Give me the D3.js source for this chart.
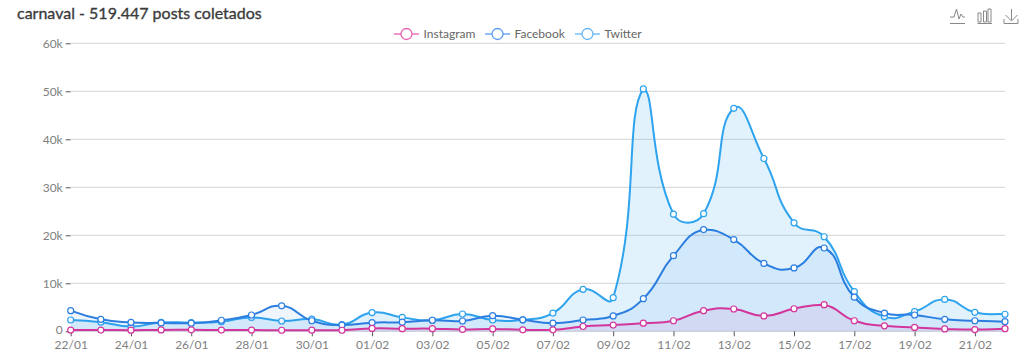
<!DOCTYPE html>
<html>
<head>
<meta charset="utf-8">
<script src="https://cdnjs.cloudflare.com/ajax/libs/d3/7.8.5/d3.min.js"></script>
<style>
  html, body { margin: 0; padding: 0; background: #fff; }
  svg { display: block; font-family: Lato, sans-serif; }
</style>
</head>
<body>
<script>
var w = 1024;
var h = 355;

var days = ["22/01","23/01","24/01","25/01","26/01","27/01","28/01","29/01","30/01","31/01",
  "01/02","02/02","03/02","04/02","05/02","06/02","07/02","08/02","09/02","10/02","11/02",
  "12/02","13/02","14/02","15/02","16/02","17/02","18/02","19/02","20/02","21/02","22/02"];

var instagram = [250,260,240,280,300,260,250,220,230,220,
  600,550,550,400,500,300,300,1000,1300,1700,2200,
  4300,4650,3200,4700,5550,2200,1150,800,500,350,550];
var facebook = [4300,2500,1850,1750,1700,2300,3400,5300,2200,1300,
  1800,1900,2300,2150,3250,2400,1700,2350,3200,6800,15750,
  21200,19100,14150,13200,17350,7100,3800,3400,2500,2200,2000];
var twitter = [2350,1900,1000,1850,1800,2000,2900,2150,2550,1400,
  3900,2900,2300,3600,2350,2400,3800,8750,7000,50500,24400,
  24500,46450,36000,22600,19700,8250,3050,4100,6650,3950,3550];

var yTicks = [0,10000,20000,30000,40000,50000,60000];
var seriesNames = ["Twitter","Facebook","Instagram"];
var seriesValues = [twitter, facebook, instagram];
var seriesColors = ["#2ea3ee","#2b7ee0","#d4359c"];
var legendNames = ["Instagram","Facebook","Twitter"];
var legendColors = ["#e860b0","#5b9bf0","#64b5f6"];
var legendX = [394,485,575];

var svg = d3.select("body").append("svg")
    .attr("width", w)
    .attr("height", h);

var xScale = d3.scalePoint().domain(days).range([70.7, 1005]);
var yScale = d3.scaleLinear().domain([0, 60000]).range([331.3, 43.3]);

function clamp(v, a, b) {
  return Math.max(Math.min(v, b), a);
}

// smooth line: tangents weighted by segment length, control points kept inside the series' box
function boundedCurve(context) {
  return new BoundedCurve(context, 0.5);
}
function BoundedCurve(context, smooth) {
  this._context = context;
  this._smooth = smooth;
}
BoundedCurve.prototype = {
  areaStart: function() { this._line = 0; },
  areaEnd: function() { this._line = NaN; },
  lineStart: function() { this._pts = []; },
  point: function(x, y) { this._pts.push([+x, +y]); },
  lineEnd: function() {
    var pts = this._pts, ctx = this._context, n = pts.length, smooth = this._smooth;
    var yMin = d3.min(pts, function(p) { return p[1]; });
    var yMax = d3.max(pts, function(p) { return p[1]; });
    if (n) {
      if (this._line) ctx.lineTo(pts[0][0], pts[0][1]);
      else ctx.moveTo(pts[0][0], pts[0][1]);
    }
    var cx = n ? pts[0][0] : 0, cy = n ? pts[0][1] : 0;
    for (var i = 1; i < n; i++) {
      var p = pts[i], prev = pts[i - 1], next = pts[Math.min(i + 1, n - 1)];
      var lenPrev = Math.hypot(p[0] - prev[0], p[1] - prev[1]);
      var lenNext = Math.hypot(next[0] - p[0], next[1] - p[1]);
      var total = (lenPrev + lenNext) || 1;
      var vx = (next[0] - prev[0]) * smooth, vy = (next[1] - prev[1]) * smooth;
      var cp1x = p[0] - vx * lenPrev / total;
      var cp1y = clamp(p[1] - vy * lenPrev / total, yMin, yMax);
      ctx.bezierCurveTo(cx, cy, cp1x, cp1y, p[0], p[1]);
      cx = p[0] + vx * lenNext / total;
      cy = clamp(p[1] + vy * lenNext / total, yMin, yMax);
    }
    if (this._line) ctx.closePath();
    this._line = 1 - this._line;
  }
};

svg.append("text")
    .attr("x", 17)
    .attr("y", 19)
    .attr("font-size", 16)
    .attr("fill", "#3c3c3c")
    .attr("stroke", "#3c3c3c")
    .attr("stroke-width", 0.35)
    .text("carnaval - 519.447 posts coletados");

// y axis: ticks + gridlines
var yAxis = svg.append("g")
    .attr("transform", "translate(70.7,0)")
    .call(d3.axisLeft(yScale)
      .tickValues(yTicks)
      .tickSize(5)
      .tickPadding(3)
      .tickFormat(function(d) { return d === 0 ? "0" : (d / 1000) + "k"; }));
yAxis.select(".domain").remove();
yAxis.selectAll("line").attr("stroke", "#555");
yAxis.selectAll("text")
    .attr("font-family", "Lato, sans-serif")
    .attr("font-size", 12)
    .attr("fill", "#808080");
// keep the "0" clear of the first date label
yAxis.selectAll("text").filter(function(d) { return d === 0; }).attr("dy", "0.15em");

svg.append("g").selectAll("line")
    .data(yTicks)
    .enter()
    .append("line")
      .attr("x1", 70.7)
      .attr("x2", 1005)
      .attr("y1", function(d) { return yScale(d); })
      .attr("y2", function(d) { return yScale(d); })
      .attr("stroke", "#dcdcdc")
      .attr("stroke-width", 1.2);

// x axis, labelled every other day
var xAxis = svg.append("g")
    .attr("transform", "translate(0,331.3)")
    .call(d3.axisBottom(xScale)
      .tickValues(days.filter(function(d, i) { return i % 2 === 0; }))
      .tickSize(5)
      .tickPadding(4));
xAxis.select(".domain").remove();
xAxis.selectAll("line").attr("stroke", "#555");
xAxis.selectAll("text")
    .attr("font-family", "Lato, sans-serif")
    .attr("font-size", 12)
    .attr("fill", "#808080");

var area = d3.area()
    .curve(boundedCurve)
    .x(function(d, i) { return xScale(days[i]); })
    .y0(yScale(0))
    .y1(function(d) { return yScale(d); });

var line = d3.line()
    .curve(boundedCurve)
    .x(function(d, i) { return xScale(days[i]); })
    .y(function(d) { return yScale(d); });

seriesValues.forEach(function(values, s) {
  var g = svg.append("g").attr("class", seriesNames[s]);

  g.append("path")
      .datum(values)
      .attr("d", area)
      .attr("fill", seriesColors[s])
      .attr("fill-opacity", s === 0 ? 0.14 : 0.08);

  g.append("path")
      .datum(values)
      .attr("d", line)
      .attr("fill", "none")
      .attr("stroke", seriesColors[s])
      .attr("stroke-width", 2);

  g.selectAll("circle")
      .data(values)
      .enter()
      .append("circle")
        .attr("cx", function(d, i) { return xScale(days[i]); })
        .attr("cy", function(d) { return yScale(d); })
        .attr("r", 3)
        .attr("fill", "#fff")
        .attr("stroke", seriesColors[s])
        .attr("stroke-width", 1.2);
});

// legend
legendNames.forEach(function(name, i) {
  var g = svg.append("g").attr("transform", "translate(" + legendX[i] + ",34)");
  g.append("line")
      .attr("x1", 0).attr("x2", 25)
      .attr("stroke", legendColors[i])
      .attr("stroke-width", 1.3);
  g.append("circle")
      .attr("cx", 12.5)
      .attr("r", 5.5)
      .attr("fill", "#fff")
      .attr("stroke", legendColors[i])
      .attr("stroke-width", 1.3);
  g.append("text")
      .attr("x", 29.5)
      .attr("y", 4)
      .attr("font-size", 12)
      .attr("fill", "#666")
      .text(name);
});

// toolbox icons
var icons = svg.append("g")
    .attr("fill", "none")
    .attr("stroke", "#888")
    .attr("stroke-width", 1);
icons.append("path").attr("d", "M950 17 L954 17 L956.5 9 L959 19 L961 14 L963 17 L965 17 M950 23.5 H965");
icons.append("path").attr("d", "M978 13 h3 v9 h-3 z M983.5 11 h3 v11 h-3 z M988 9 h3 v13 h-3 z M977.5 23.5 H992");
icons.append("path").attr("d", "M1011.5 9 V20 M1005.5 15 L1011.5 21 L1017.5 15 M1004 19 V23.5 H1018 V19");
</script>
</body>
</html>
